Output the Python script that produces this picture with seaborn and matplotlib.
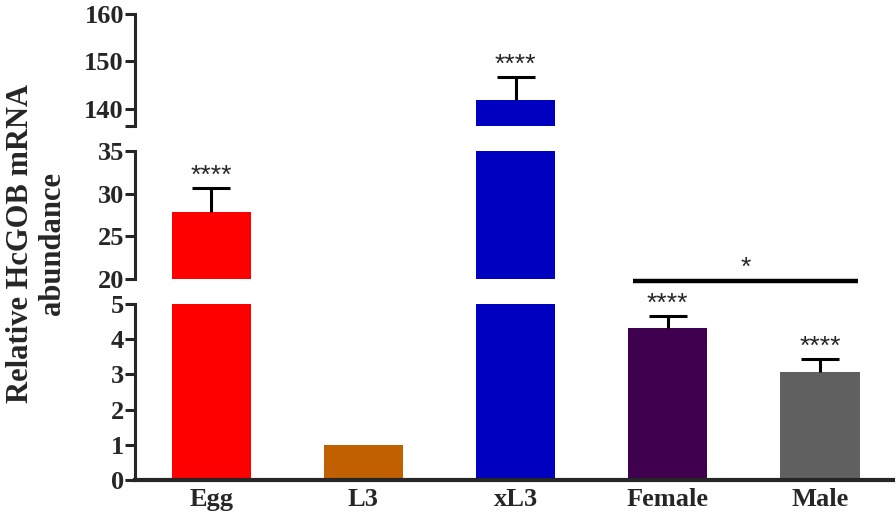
import numpy as np
import pandas as pd
import seaborn as sns
import matplotlib.pyplot as plt

# data
stages = ["Egg", "L3", "xL3", "Female", "Male"]
means = [27.9, 1.0, 141.8, 4.33, 3.07]
errors = [2.75, 0.0, 4.9, 0.32, 0.38]
stars = ["****", "", "****", "****", "****"]
colors = ["#ff0000", "#c06000", "#0000c0", "#400050", "#606060"]

# broken axis segments (low, high) and their ticks
segments = [(136.4, 160), (20, 35), (0, 5)]
seg_ticks = [[140, 150, 160], [20, 25, 30, 35], [0, 1, 2, 3, 4, 5]]

# significance bracket between Female and Male
bracket_x = [2.77, 4.25]
bracket_label = "*"


def main():
    sns.set_style("ticks")
    plt.rcParams["font.family"] = ["Liberation Serif", "DejaVu Serif"]

    df = pd.DataFrame({"stage": stages, "mean": means, "err": errors})
    x = np.arange(len(stages))
    top = df["mean"] + df["err"]
    has_err = df["err"] > 0

    fig = plt.figure(figsize=(8.96, 5.22), dpi=100)
    rects = [
        [0.1507, 0.7586, 0.846, 0.2146],
        [0.1507, 0.4655, 0.846, 0.2452],
        [0.1507, 0.0805, 0.846, 0.3372],
    ]
    axes = []
    for rect, (lo, hi), ticks in zip(rects, segments, seg_ticks):
        ax = fig.add_axes(rect)
        sns.barplot(data=df, x="stage", y="mean", hue="stage", palette=colors,
                    saturation=1, width=0.52, linewidth=0, legend=False,
                    errorbar=None, ax=ax)
        # one-sided error bars
        ax.vlines(x[has_err], df["mean"][has_err], top[has_err],
                  color="black", lw=2.2)
        ax.hlines(top[has_err], x[has_err] - 0.125, x[has_err] + 0.125,
                  color="black", lw=2.2)
        ax.set_ylim(lo, hi)
        ax.set_xlim(-0.5, 4.48)
        ax.set_yticks(ticks)
        ax.set_yticks([lo], minor=True)
        ax.set_ylabel("")
        ax.set_xlabel("")
        for s in ["top", "right"]:
            ax.spines[s].set_visible(False)
        ax.spines["left"].set_linewidth(2.2)
        ax.tick_params(axis="y", which="both", left=True, direction="out",
                       length=7, width=2.2, labelsize=19, pad=1)
        for lab in ax.get_yticklabels():
            lab.set_fontweight("bold")
        axes.append(ax)

    for ax in axes[:2]:
        ax.spines["bottom"].set_visible(False)
        ax.set_xticks([])
    bottom_ax = axes[2]
    bottom_ax.spines["bottom"].set_linewidth(3)
    bottom_ax.tick_params(axis="x", length=0, labelsize=19, pad=6)
    for lab in bottom_ax.get_xticklabels():
        lab.set_fontweight("bold")

    star_font = dict(family="Liberation Sans", fontsize=19)

    # stars above error bars, placed on whichever segment holds them
    for xi, yi, s in zip(x, top, stars):
        if not s:
            continue
        for ax, (lo, hi) in zip(axes, segments):
            if lo <= yi <= hi:
                ax.annotate(s, (xi, yi), xytext=(0, 0), textcoords="offset points",
                            ha="center", va="bottom", annotation_clip=False,
                            **star_font)
                break

    mid = axes[1]
    mid.plot(bracket_x, [19.75, 19.75], color="black", lw=3.2, clip_on=False,
             solid_capstyle="butt")
    mid.annotate(bracket_label, (np.mean(bracket_x), 19.75), xytext=(0, 1),
                 textcoords="offset points", ha="center", va="bottom",
                 annotation_clip=False, **star_font)

    fig.text(0.041, 0.533, "Relative HcGOB mRNA\nabundance", rotation=90,
             ha="center", va="center", multialignment="center",
             fontsize=22, fontweight="bold", linespacing=1.15)

    fig.savefig("out.png", dpi=100)


if __name__ == "__main__":
    main()
